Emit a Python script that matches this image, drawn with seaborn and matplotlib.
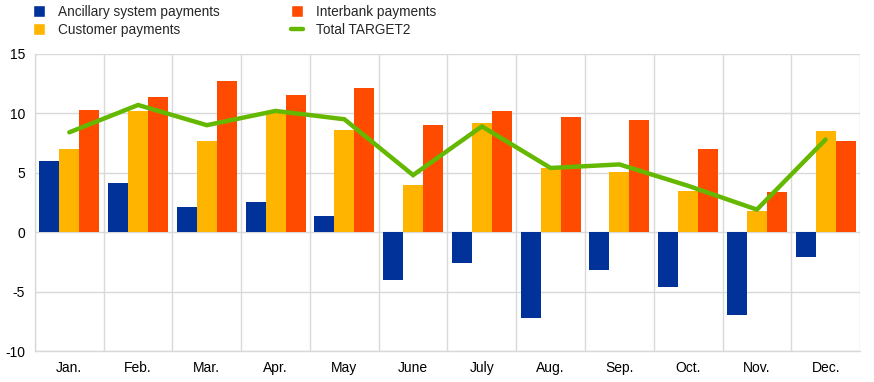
import numpy as np
import pandas as pd
import seaborn as sns
import matplotlib.pyplot as plt
from matplotlib.lines import Line2D
from matplotlib.patches import Patch

months = ["Jan.", "Feb.", "Mar.", "Apr.", "May", "June",
          "July", "Aug.", "Sep.", "Oct.", "Nov.", "Dec."]
ancillary = [6.0, 4.1, 2.1, 2.5, 1.4, -4.0, -2.6, -7.2, -3.2, -4.6, -7.0, -2.1]
customer = [7.0, 10.2, 7.7, 10.0, 8.6, 4.0, 9.2, 5.4, 5.1, 3.5, 1.8, 8.5]
interbank = [10.3, 11.4, 12.7, 11.5, 12.1, 9.0, 10.2, 9.7, 9.4, 7.0, 3.4, 7.7]
total = [8.4, 10.7, 9.0, 10.2, 9.5, 4.8, 8.9, 5.4, 5.7, 3.9, 1.9, 7.8]

series_names = ["Ancillary system payments", "Customer payments", "Interbank payments"]
colors = {"Ancillary system payments": "#003299",
          "Customer payments": "#FFB400",
          "Interbank payments": "#FF4B00"}
green = "#65B800"

df = pd.DataFrame({
    "month": months * 3,
    "series": np.repeat(series_names, len(months)),
    "value": ancillary + customer + interbank,
})

sns.set_style("white")
plt.rcParams["font.family"] = ["Liberation Sans", "DejaVu Sans"]
plt.rcParams["axes.unicode_minus"] = False

fig = plt.figure(figsize=(8.74, 3.82), dpi=100)
ax = fig.add_axes([0.040, 0.081, 0.944, 0.778])

sns.barplot(data=df, x="month", y="value", hue="series", order=months,
            hue_order=series_names, palette=colors, width=0.87,
            saturation=1, legend=False, linewidth=0, ax=ax, zorder=2)
sns.lineplot(x=np.arange(len(months)), y=total, color=green, linewidth=3.2,
             ax=ax, zorder=3, solid_capstyle="round", solid_joinstyle="miter")

ax.set_xlim(-0.5, len(months) - 0.5)
ax.set_ylim(-10, 15)
ax.set_yticks([-10, -5, 0, 5, 10, 15])
ax.set_xticks(np.arange(len(months)))
ax.set_xticklabels(months)
ax.set_xticks(np.arange(len(months) + 1) - 0.5, minor=True)
ax.grid(axis="y", which="major", color="#d9d9d9", linewidth=1, zorder=0)
ax.grid(axis="x", which="minor", color="#d9d9d9", linewidth=1, zorder=0)
ax.grid(axis="x", which="major", visible=False)
ax.set_axisbelow(True)
ax.tick_params(which="both", length=0, labelsize=10, colors="black")
ax.tick_params(axis="x", pad=7)
ax.tick_params(axis="y", pad=7)
ax.set_xlabel("")
ax.set_ylabel("")
for side in ["top", "right"]:
    ax.spines[side].set_visible(False)
for side in ["left", "bottom"]:
    ax.spines[side].set_color("#d9d9d9")
    ax.spines[side].set_linewidth(1)

handles = [
    Patch(facecolor=colors["Ancillary system payments"], label="Ancillary system payments"),
    Patch(facecolor=colors["Customer payments"], label="Customer payments"),
    Patch(facecolor=colors["Interbank payments"], label="Interbank payments"),
    Line2D([0], [0], color=green, linewidth=3.2, label="Total TARGET2"),
]
fig.legend(handles=handles, ncol=2, loc="upper left", bbox_to_anchor=(0.024, 1.02),
           frameon=False, fontsize=9.8, handlelength=0.9, handleheight=0.9,
           handletextpad=0.95, columnspacing=5.2, labelspacing=0.3)

fig.savefig("out.png", dpi=100)
